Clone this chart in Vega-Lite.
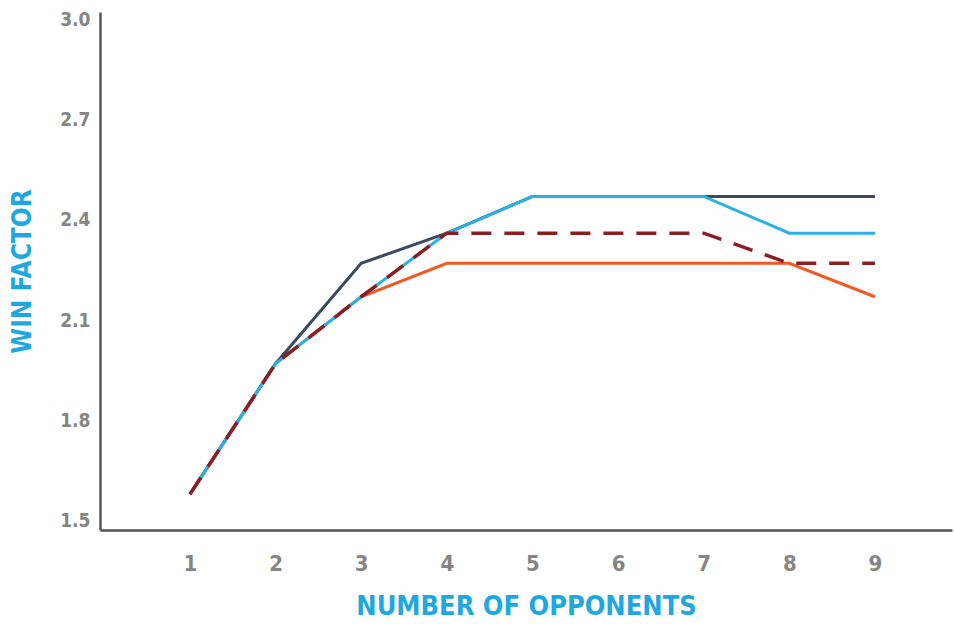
{
  "$schema": "https://vega.github.io/schema/vega-lite/v6.json",
  "autosize": "none",
  "width": 852,
  "height": 518,
  "padding": {"left": 100, "top": 12, "right": 2, "bottom": 94},
  "background": "white",
  "config": {
    "view": {"stroke": null},
    "font": "DejaVu Sans Condensed"
  },
  "data": {
    "values": [
      {"opponents": 1, "series": "orange", "win": 1.58},
      {"opponents": 2, "series": "orange", "win": 1.97},
      {"opponents": 3, "series": "orange", "win": 2.17},
      {"opponents": 4, "series": "orange", "win": 2.27},
      {"opponents": 5, "series": "orange", "win": 2.27},
      {"opponents": 6, "series": "orange", "win": 2.27},
      {"opponents": 7, "series": "orange", "win": 2.27},
      {"opponents": 8, "series": "orange", "win": 2.27},
      {"opponents": 9, "series": "orange", "win": 2.17},
      {"opponents": 1, "series": "navy", "win": 1.58},
      {"opponents": 2, "series": "navy", "win": 1.97},
      {"opponents": 3, "series": "navy", "win": 2.27},
      {"opponents": 4, "series": "navy", "win": 2.36},
      {"opponents": 5, "series": "navy", "win": 2.47},
      {"opponents": 6, "series": "navy", "win": 2.47},
      {"opponents": 7, "series": "navy", "win": 2.47},
      {"opponents": 8, "series": "navy", "win": 2.47},
      {"opponents": 9, "series": "navy", "win": 2.47},
      {"opponents": 1, "series": "cyan", "win": 1.58},
      {"opponents": 2, "series": "cyan", "win": 1.97},
      {"opponents": 3, "series": "cyan", "win": 2.17},
      {"opponents": 4, "series": "cyan", "win": 2.36},
      {"opponents": 5, "series": "cyan", "win": 2.47},
      {"opponents": 6, "series": "cyan", "win": 2.47},
      {"opponents": 7, "series": "cyan", "win": 2.47},
      {"opponents": 8, "series": "cyan", "win": 2.36},
      {"opponents": 9, "series": "cyan", "win": 2.36},
      {"opponents": 1, "series": "dashed", "win": 1.58},
      {"opponents": 2, "series": "dashed", "win": 1.97},
      {"opponents": 3, "series": "dashed", "win": 2.17},
      {"opponents": 4, "series": "dashed", "win": 2.36},
      {"opponents": 5, "series": "dashed", "win": 2.36},
      {"opponents": 6, "series": "dashed", "win": 2.36},
      {"opponents": 7, "series": "dashed", "win": 2.36},
      {"opponents": 8, "series": "dashed", "win": 2.27},
      {"opponents": 9, "series": "dashed", "win": 2.27}
    ]
  },
  "encoding": {
    "x": {
      "field": "opponents",
      "type": "quantitative",
      "scale": {"domain": [-0.05, 9.9], "nice": false, "zero": false},
      "axis": {
        "values": [1, 2, 3, 4, 5, 6, 7, 8, 9],
        "grid": false,
        "ticks": false,
        "domainColor": "#555555",
        "domainWidth": 2.5,
        "labelFont": "DejaVu Sans Condensed",
        "labelFontWeight": "bold",
        "labelFontSize": 22,
        "labelColor": "#858585",
        "labelPadding": 23,
        "title": "NUMBER OF OPPONENTS",
        "titleFont": "DejaVu Sans Condensed",
        "titleFontWeight": "bold",
        "titleFontSize": 27,
        "titleColor": "#1fa8e0",
        "titlePadding": 19
      }
    },
    "y": {
      "field": "win",
      "type": "quantitative",
      "scale": {"domain": [1.473, 3.021], "nice": false, "zero": false},
      "axis": {
        "values": [1.5, 1.8, 2.1, 2.4, 2.7, 3.0],
        "format": ".1f",
        "grid": false,
        "ticks": false,
        "domainColor": "#555555",
        "domainWidth": 2.5,
        "labelFont": "DejaVu Sans Condensed",
        "labelFontWeight": "bold",
        "labelFontSize": 19,
        "labelColor": "#858585",
        "labelPadding": 10,
        "title": "WIN FACTOR",
        "titleFont": "DejaVu Sans Condensed",
        "titleFontWeight": "bold",
        "titleFontSize": 26,
        "titleColor": "#1fa8e0",
        "titlePadding": 24
      }
    }
  },
  "layer": [
    {
      "transform": [{"filter": "datum.series === 'orange'"}],
      "mark": {"type": "line", "color": "#f15a22", "strokeWidth": 3}
    },
    {
      "transform": [{"filter": "datum.series === 'navy'"}],
      "mark": {"type": "line", "color": "#3b4a5c", "strokeWidth": 3}
    },
    {
      "transform": [{"filter": "datum.series === 'cyan'"}],
      "mark": {"type": "line", "color": "#29b1e6", "strokeWidth": 3}
    },
    {
      "transform": [{"filter": "datum.series === 'dashed'"}],
      "mark": {"type": "line", "color": "#8b1e22", "strokeWidth": 3.5, "strokeDash": [20, 13]}
    }
  ]
}
